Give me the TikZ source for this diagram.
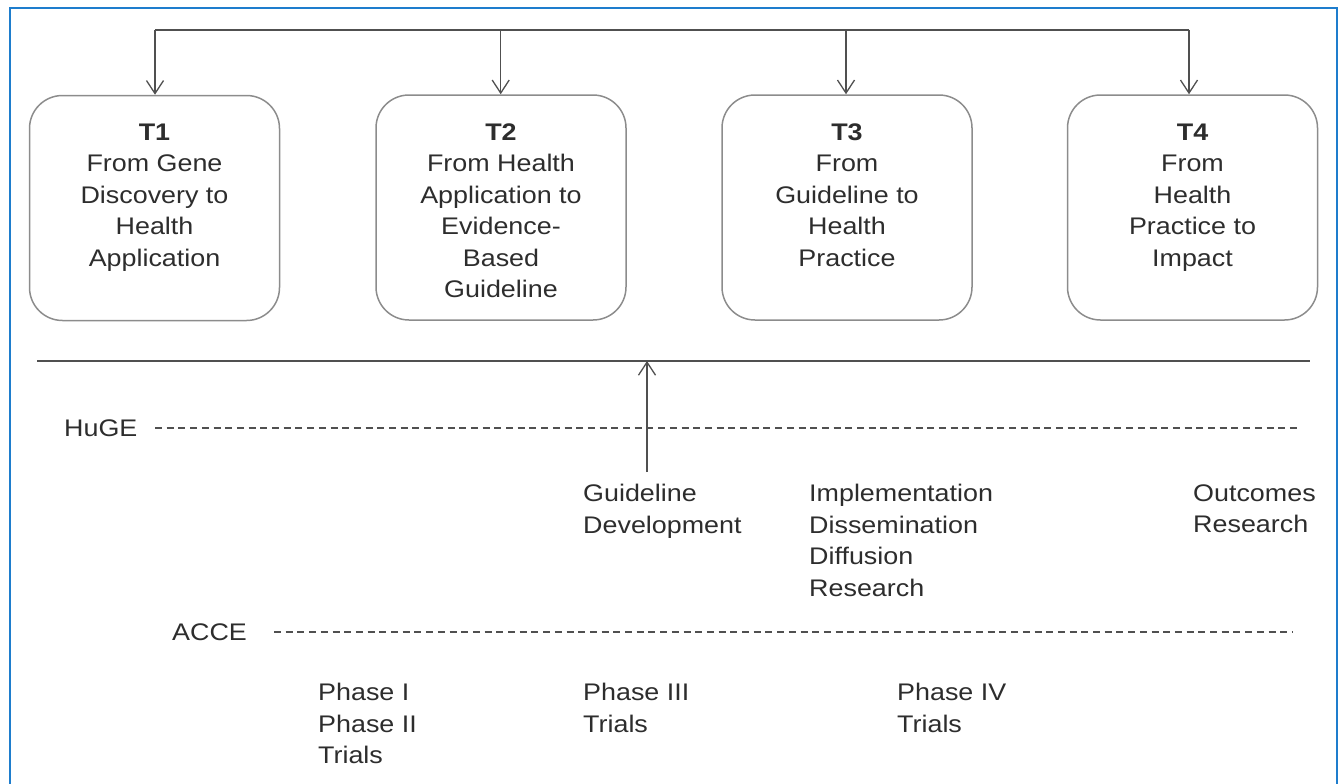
\documentclass[tikz,border=0pt]{standalone}
\usepackage{fontspec}
\setmainfont{Liberation Sans}[FakeStretch=1.12]
\usetikzlibrary{arrows.meta}
\definecolor{framecol}{RGB}{30,125,205}
\definecolor{boxcol}{RGB}{140,140,140}
\definecolor{linecol}{RGB}{80,80,80}
\definecolor{txtcol}{RGB}{45,45,45}
\begin{document}
\begin{tikzpicture}[x=1pt,y=-1pt,
  tbox/.style={draw=boxcol, line width=1.5pt, rounded corners=33pt, minimum width=250pt, minimum height=225pt, inner sep=0pt},
  btxt/.style={anchor=north, align=center, inner sep=0pt, text=txtcol, font=\fontsize{24}{31.5}\selectfont},
  ltxt/.style={anchor=north west, align=left, inner sep=0pt, text=txtcol, font=\fontsize{24}{31.5}\selectfont},
  rowlbl/.style={anchor=west, inner sep=0pt, text=txtcol, font=\fontsize{24}{31.5}\selectfont},
  conn/.style={draw=linecol, line width=1.3pt},
  arr/.style={conn, -{Straight Barb[length=13pt,width=17pt,line width=1.3pt]}},
  dashline/.style={draw=linecol, line width=1.5pt, dash pattern=on 7pt off 4.7pt}
]
\useasboundingbox (0,0) rectangle (1341,784);
% frame
\draw[framecol, line width=2pt] (10,790) -- (10,8) -- (1337,8) -- (1337,790);

% boxes
\node[tbox] (t1) at (154.5,208) {};
\node[tbox] (t2) at (501,207.5) {};
\node[tbox] (t3) at (847,207.5) {};
\node[tbox] (t4) at (1192.5,207.5) {};

\node[btxt] (t1txt) at (154.5,123.4) {\textbf{T1}\\From Gene\\Discovery to\\Health\\Application};
\node[btxt] (t2txt) at (501,123.4) {\textbf{T2}\\From Health\\Application to\\Evidence-\\Based\\Guideline};
\node[btxt] (t3txt) at (847,123.4) {\textbf{T3}\\From\\Guideline to\\Health\\Practice};
\node[btxt] (t4txt) at (1192.5,123.4) {\textbf{T4}\\From\\Health\\Practice to\\Impact};

% top bar and arrows
\coordinate (b1) at (155,30);
\coordinate (b2) at (500.7,30);
\coordinate (b3) at (846,30);
\coordinate (b4) at (1189,30);
\draw[conn] (b1) -- (b4);
\draw[arr] (b1) -- (b1 |- t1.north);
\draw[arr] (b2) -- (b2 |- t2.north);
\draw[arr] (b3) -- (b3 |- t3.north);
\draw[arr] (b4) -- (b4 |- t4.north);

% solid separator
\coordinate (sl) at (37,361);
\coordinate (sr) at (1310,361);
\draw[draw=linecol, line width=1.8pt] (sl) -- (sr);

% HuGE row
\node[rowlbl] (huge) at (64,428) {HuGE};
\coordinate (hugeend) at (1297,428);
\draw[dashline] (155,428) -- (hugeend);

% ACCE row
\node[rowlbl] (acce) at (172,632) {ACCE};
\coordinate (acceend) at (1293,632);
\draw[dashline] (274,632) -- (acceend);

% up arrow
\coordinate (gd) at (647,472);
\draw[arr] (gd) -- (gd |- sl);

% HuGE texts
\node[ltxt] (guide) at (583,484.4) {Guideline\\Development};
\node[ltxt] (impl) at (809,484.4) {Implementation\\Dissemination\\Diffusion\\Research};
\node[ltxt] (outc) at (1193,484.4) {Outcomes\\Research};

% ACCE texts
\node[ltxt] (ph12) at (318,683.4) {Phase I\\Phase II\\Trials};
\node[ltxt] (ph3) at (583,683.4) {Phase III\\Trials};
\node[ltxt] (ph4) at (897,683.4) {Phase IV\\Trials};
\end{tikzpicture}
\end{document}
